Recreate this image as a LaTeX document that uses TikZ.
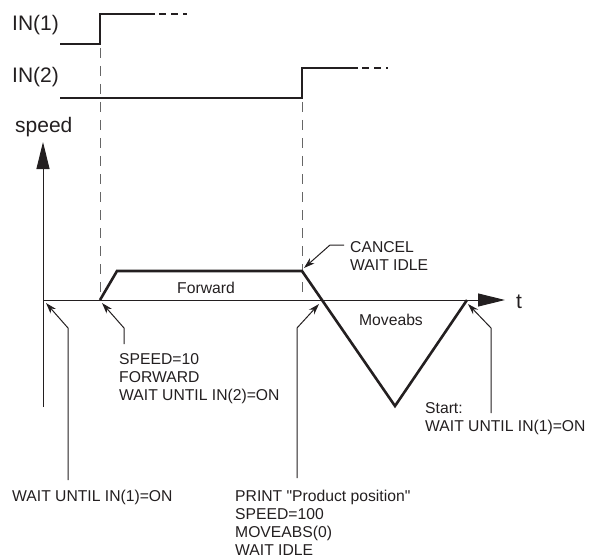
\documentclass[tikz,border=0pt]{standalone}
\usepackage{fontspec}
\setmainfont{Liberation Sans}[Ligatures=TeXOff]
\usetikzlibrary{arrows.meta}
\definecolor{ink}{HTML}{231F20}
\begin{document}
\begin{tikzpicture}[x=1pt,y=-1pt,
 sig/.style={line width=2.4pt, draw=ink, line join=miter},
 sigdash/.style={line width=2.4pt, draw=ink, dash pattern=on 7pt off 5pt},
 prof/.style={line width=2.6pt, draw=ink, line join=miter},
 axis/.style={line width=1pt, draw=black!65, -{Triangle[length=27pt,width=13pt]}, color=ink},
 guide/.style={line width=0.9pt, draw=black!60, dash pattern=on 10pt off 8pt},
 leader/.style={line width=1pt, draw=ink, -{Stealth[length=11pt,width=7pt]}},
 big/.style={font=\fontsize{21}{24}\selectfont, inner sep=0pt, text=ink, anchor=base west},
 small/.style={font=\fontsize{15.7}{18}\selectfont, inner sep=0pt, align=left, text=ink, anchor=base west},
]
\useasboundingbox (0,0) rectangle (589,559);

% signal labels
\node[big] (in1) at (12,31) {IN(1)};
\node[big] (in2) at (12,83) {IN(2)};
\node[big] (spd) at (15,133) {speed};
\node[big] (tl) at (516,308) {t};

% signals
\coordinate (s1a) at (60,44);
\coordinate (s1b) at (100,44);
\coordinate (s1c) at (100,14);
\coordinate (s1d) at (155,14);
\coordinate (s1e) at (187,14);
\draw[sig] (s1a) -- (s1b) -- (s1c) -- (s1d);
\draw[sigdash] (s1d) ++(4,0) -- (s1e);

\coordinate (s2a) at (60,98);
\coordinate (s2b) at (302,98);
\coordinate (s2c) at (302,68);
\coordinate (s2d) at (358,68);
\coordinate (s2e) at (388,68);
\draw[sig] (s2a) -- (s2b) -- (s2c) -- (s2d);
\draw[sigdash] (s2d) ++(4,0) -- (s2e);

% guides
\coordinate (g1t) at (100,48);
\coordinate (g1b) at (100,300);
\coordinate (g2t) at (302,102);
\coordinate (g2b) at (302,300);
\draw[guide] (g1t) -- (g1b);
\draw[guide] (g2t) -- (g2b);

% axes
\coordinate (o) at (43,300);
\coordinate (ob) at (43,407);
\coordinate (ytip) at (43,142);
\coordinate (xtip) at (505,300);
\draw[axis] (ob) -- (ytip);
\draw[axis] (o) -- (xtip);

% speed profile
\coordinate (p0) at (100,300);
\coordinate (p1) at (117,271);
\coordinate (p2) at (302,271);
\coordinate (p3) at (395,406);
\coordinate (p4) at (467,300);
\draw[prof] (p0) -- (p1) -- (p2) -- (p3) -- (p4);

\node[font=\fontsize{15.7}{18}\selectfont, inner sep=0pt, text=ink, anchor=base] (fw) at (206,293) {Forward};
\node[font=\fontsize{15.7}{18}\selectfont, inner sep=0pt, text=ink, anchor=base] (mv) at (391,325) {Moveabs};

% annotations (base anchor = last line)
\node[small] (cancel) at (350,270) {CANCEL\\WAIT IDLE};
\coordinate (c1) at (344,245);
\coordinate (c2) at (330,245);
\coordinate (ct) at (304,268);
\draw[leader] (c1) -- (c2) -- (ct);

\node[small] (a1) at (12,501) {WAIT UNTIL IN(1)=ON};
\coordinate (l1b) at (68,480);
\coordinate (l1m) at (68,328);
\coordinate (l1t) at (46,303);
\draw[leader] (l1b) -- (l1m) -- (l1t);

\node[small] (a2) at (119,400) {SPEED=10\\FORWARD\\WAIT UNTIL IN(2)=ON};
\coordinate (l2b) at (124,344);
\coordinate (l2m) at (124,328);
\coordinate (l2t) at (102,303);
\draw[leader] (l2b) -- (l2m) -- (l2t);

\node[small] (a3) at (235,555) {PRINT "Product position"\\SPEED=100\\MOVEABS(0)\\WAIT IDLE};
\coordinate (l3b) at (297,478);
\coordinate (l3m) at (297,328);
\coordinate (l3t) at (319,304);
\draw[leader] (l3b) -- (l3m) -- (l3t);

\node[small] (a4) at (425,431) {Start:\\WAIT UNTIL IN(1)=ON};
\coordinate (l4b) at (491,413);
\coordinate (l4m) at (491,328);
\coordinate (l4t) at (468,304);
\draw[leader] (l4b) -- (l4m) -- (l4t);
\end{tikzpicture}
\end{document}
